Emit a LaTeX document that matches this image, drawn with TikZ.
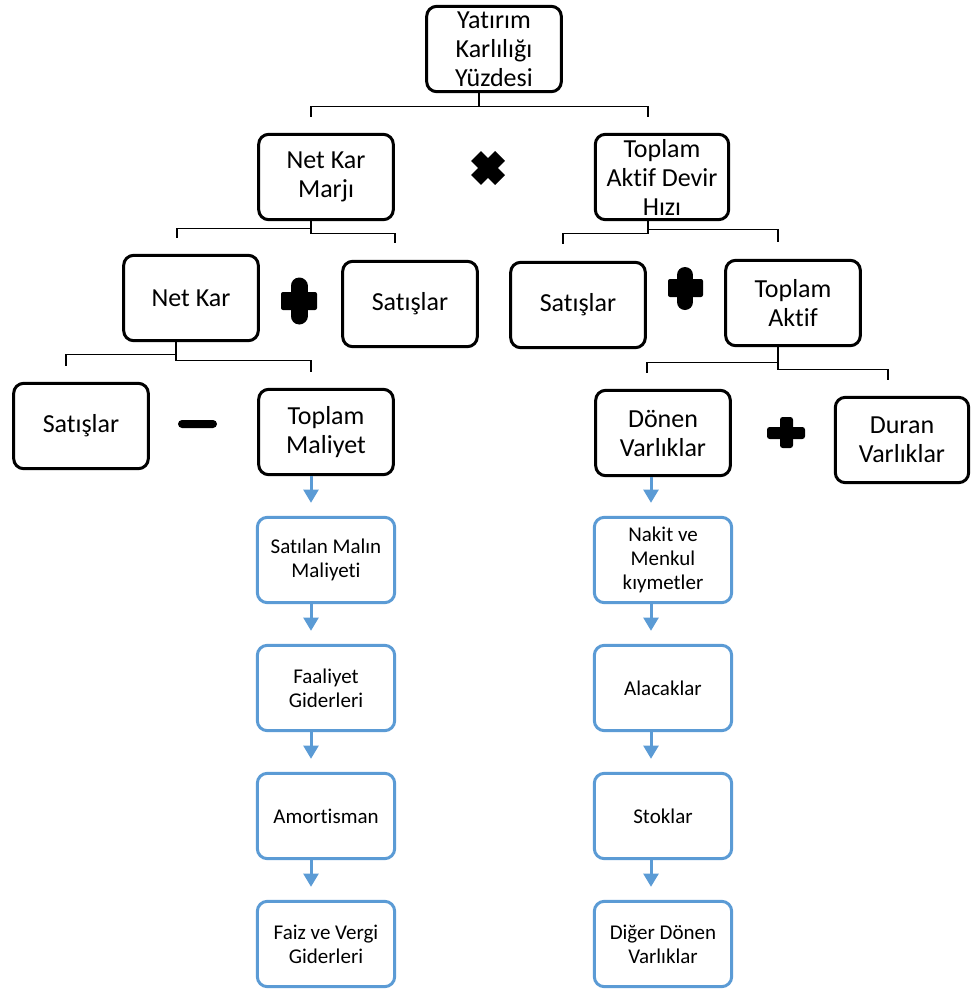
\documentclass[tikz,border=0pt]{standalone}
\usepackage{fontspec}
\setmainfont{Carlito}[Ligatures=NoCommon]
\usetikzlibrary{calc,arrows.meta}
\definecolor{wordblue}{RGB}{91,155,213}

\begin{document}
\begin{tikzpicture}[x=0.75pt, y=-0.75pt,
    box/.style={draw, line width=2.25pt, rounded corners=7.5pt, minimum width=101pt, minimum height=64pt, inner sep=0.5pt, align=center, font=\fontsize{19.5}{21.75}\selectfont},
    bluebox/.style={draw=wordblue, line width=2.25pt, rounded corners=7.5pt, minimum width=103pt, minimum height=64pt, inner sep=0.5pt, align=center, font=\fontsize{15.75}{18}\selectfont},
    conn/.style={line width=0.9pt},
    flow/.style={wordblue, line width=2.25pt, -{Triangle[width=11.25pt,length=10pt]}}]
    \useasboundingbox (0,0) rectangle (971,989);

    % Ratio tree
    \node[box] (ykd) at (494,49) {Yatırım\\Karlılığı\\Yüzdesi};
    \node[box] (nkm) at (326,177) {Net Kar\\Marjı};
    \node[box, minimum width=100pt] (tadh) at (662,177) {Toplam\\Aktif Devir\\Hızı};
    \node[box] (nk) at (191,298) {Net Kar};
    \node[box] (sat1) at (410,304) {Satışlar};
    \node[box] (sat2) at (578,305) {Satışlar};
    \node[box] (ta) at (793,303) {Toplam\\Aktif};
    \node[box] (sat3) at (81,426) {Satışlar};
    \node[box] (tm) at (326,432) {Toplam\\Maliyet};
    \node[box] (dv) at (663,433) {Dönen\\Varlıklar};
    \node[box, minimum width=100pt] (duv) at (902,440) {Duran\\Varlıklar};

    % Branches
    \draw[conn] ($(ykd.south)+(-15,0)$) -- ++(0,13) coordinate (j0);
    \draw[conn] ($(nkm.north)+(-15,-16)$) |- (j0) -| ($(tadh.north)+(-14,-16)$);
    \draw[conn] ($(nkm.south)+(-15,0)$) -- ++(0,7) -| ($(nk.north)+(-14,-16)$);
    \draw[conn] ($(nkm.south)+(-15,0)$) -- ++(0,12) -| ($(sat1.north)+(-15,-17)$);
    \draw[conn] ($(nk.south)+(-15,0)$) -- ++(0,12) -| ($(sat3.north)+(-15,-16)$);
    \draw[conn] ($(nk.south)+(-15,0)$) -- ++(0,18) -| ($(tm.north)+(-15,-16)$);
    \draw[conn] ($(tadh.south)+(-14,0)$) -- ++(0,12) -| ($(sat2.north)+(-15,-17)$);
    \draw[conn] ($(tadh.south)+(-14,0)$) -- ++(0,8) -| ($(ta.north)+(-15,-17)$);
    \draw[conn] ($(ta.south)+(-15,0)$) -- ++(0,15) -| ($(dv.north)+(-16,-16)$);
    \draw[conn] ($(ta.south)+(-15,0)$) -- ++(0,22) -| ($(duv.north)+(-14,-16)$);

    % Operators
    \draw[line width=10.5pt] (476,156) -- (500,180) (500,156) -- (476,180);
    \fill[rounded corners=1.5pt] (281,292) rectangle (317,310);
    \draw[line width=12.75pt, line cap=round] (299,286) -- (299,316);
    \fill[rounded corners=1.5pt] (668,279) rectangle (703,297);
    \draw[line width=12pt, line cap=round] (685,275) -- (685,302);
    \fill[rounded corners=3pt] (178,420) rectangle (217,428);
    \fill[rounded corners=2pt] (767,427) rectangle (805,439);
    \fill[rounded corners=2pt] (780,417) rectangle (793,448);

    % Cost items
    \foreach \i/\txt in {1/{Satılan Malın\\Maliyeti}, 2/{Faaliyet\\Giderleri}, 3/Amortisman, 4/{Faiz ve Vergi\\Giderleri}}
        \node[bluebox] (lc\i) at (326,{432+128*\i}) {\txt};
    \foreach \a/\b in {tm/lc1, lc1/lc2, lc2/lc3, lc3/lc4}
        \draw[flow] ($(\a.south)+(-15,0)$) -- ($(\b.north)+(-15,-13)$);

    % Current assets
    \foreach \i/\txt in {1/{Nakit ve\\Menkul\\kıymetler}, 2/Alacaklar, 3/Stoklar, 4/{Diğer Dönen\\Varlıklar}}
        \node[bluebox] (rc\i) at (663,{432+128*\i}) {\txt};
    \foreach \a/\b in {dv/rc1, rc1/rc2, rc2/rc3, rc3/rc4}
        \draw[flow] ($(\a.south)+(-12,0)$) -- ($(\b.north)+(-12,-13)$);
\end{tikzpicture}
\end{document}
